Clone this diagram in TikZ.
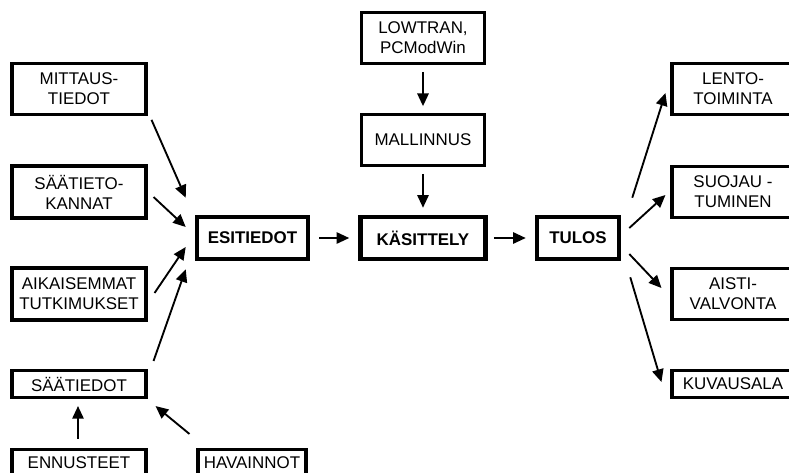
\documentclass[tikz,border=0pt]{standalone}
\usepackage{fontspec}
\setmainfont{Liberation Sans}
\usepackage{tikz}
\usetikzlibrary{arrows.meta, calc}

\begin{document}
\begin{tikzpicture}[x=0.75pt, y=-0.75pt, >={Triangle[length=9.5pt, width=8.5pt]},
    every node/.style={font=\fontsize{12.7}{15}\selectfont, align=center, inner sep=0pt},
    box/.style={draw, line width=2.3pt, rectangle, minimum width=100.5pt, minimum height=38pt},
    mainbox/.style={draw, line width=3.4pt, rectangle, minimum height=31.5pt, font=\fontsize{12.7}{15}\selectfont\bfseries},
    arr/.style={->, line width=1.4pt}]
    \useasboundingbox (0,0) rectangle (789,472);
    \clip (0,0) rectangle (789,472);

    % source boxes on the left
    \node [box] (mitt) at (79,89) {MITTAUS-\\TIEDOT};
    \node [box, minimum height=39pt] (kann) at (79,192) {SÄÄTIETO-\\KANNAT};
    \node [box, minimum height=39pt] (aika) at (79,294) {AIKAISEMMAT\\TUTKIMUKSET};
    \node [box, minimum height=20.25pt] (saat) at (79,384) {SÄÄTIEDOT};
    \node [box, minimum height=20.25pt] (enn) at (79,463) {ENNUSTEET};
    \node [box, minimum width=81pt, minimum height=20.25pt] (hav) at (252,463) {HAVAINNOT};

    % main chain
    \node [mainbox, minimum width=83.25pt] (esi) at (252.5,238) {ESITIEDOT};
    \node [mainbox, minimum width=93.75pt] (kas) at (423,238) {KÄSITTELY};
    \node [mainbox, minimum width=61.5pt] (tul) at (578,238) {TULOS};
    \node [box, minimum width=92.25pt] (low) at (423,38) {LOWTRAN,\\PCModWin};
    \node [box, minimum width=92.25pt] (mall) at (423,140) {MALLINNUS};

    % results on the right
    \node [box, minimum width=91.5pt] (lento) at (733,89) {LENTO-\\TOIMINTA};
    \node [box, minimum width=91.5pt] (suo) at (733,192) {SUOJAU -\\TUMINEN};
    \node [box, minimum width=91.5pt] (aist) at (733,294) {AISTI-\\VALVONTA};
    \node [box, minimum width=91.5pt, minimum height=20.25pt] (kuv) at (733,384) {KUVAUSALA};

    \draw [arr] ([shift={(4,4)}]mitt.south east) -- ([shift={(-9,-17)}]esi.north west);
    \draw [arr] ([shift={(6,5)}]kann.east) -- ([shift={(-9,-11)}]esi.west);
    \draw [arr] ([shift={(7,-1)}]aika.east) -- ([shift={(-9,9)}]esi.west);
    \draw [arr] ([shift={(6,-8)}]saat.north east) -- ([shift={(-9,8)}]esi.south west);
    \draw [arr] ([shift={(-1,-9)}]enn.north) -- ([shift={(-1,7)}]saat.south);
    \draw [arr] ([shift={(-7,-14)}]hav.north west) -- ([shift={(8,7)}]saat.south east);

    \draw [arr] ([shift={(9,0)}]esi.east) -- ([shift={(-9,0)}]kas.west);
    \draw [arr] ([shift={(0,7)}]low.south) -- ([shift={(0,-7)}]mall.north);
    \draw [arr] ([shift={(0,7)}]mall.south) -- ([shift={(0,-7)}]kas.north);
    \draw [arr] ([shift={(6,0)}]kas.east) -- ([shift={(-9,0)}]tul.west);

    \draw [arr] ([shift={(11,-17)}]tul.north east) -- ([shift={(-5,4)}]lento.west);
    \draw [arr] ([shift={(8,-10)}]tul.east) -- ([shift={(-5,3)}]suo.west);
    \draw [arr] ([shift={(8,16)}]tul.east) -- ([shift={(-9,-6)}]aist.west);
    \draw [arr] ([shift={(9,16)}]tul.south east) -- ([shift={(-9,-2)}]kuv.west);
\end{tikzpicture}
\end{document}
